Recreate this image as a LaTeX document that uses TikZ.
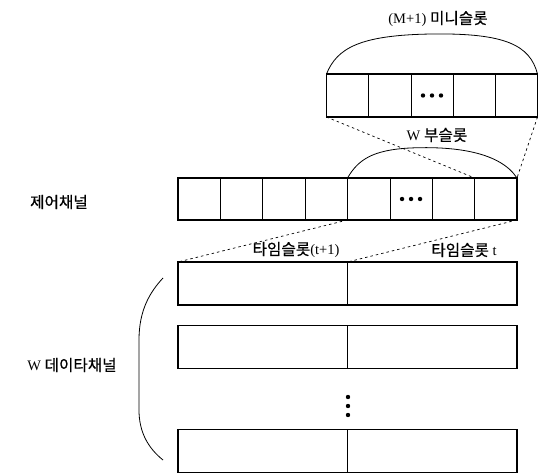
\documentclass[tikz,border=0pt]{standalone}
\usepackage{fontspec}
\setmainfont{Liberation Serif}
\newfontfamily\kr[FakeBold=0.6,Scale=1.08]{Noto Sans CJK KR}
\begin{document}
\begin{tikzpicture}[x=1pt,y=-1pt,
  cellbox/.style={draw, line width=0.7pt, inner sep=0pt, outer sep=0pt},
  ccell/.style={cellbox, minimum width=42.375pt, minimum height=42pt},
  mcell/.style={cellbox, minimum width=42.2pt, minimum height=43pt},
  dcell/.style={cellbox, minimum width=169.5pt, minimum height=43pt},
  outerline/.style={line width=1.4pt},
  dashline/.style={line width=0.7pt, dash pattern=on 2.5pt off 3pt},
  curveline/.style={line width=0.8pt},
  lbl/.style={inner sep=1pt, font=\fontsize{14.5}{16}\selectfont},
  dotmark/.style={fill=black, draw=none}
]
\useasboundingbox (0,0) rectangle (539,473);

% control channel
\foreach \i in {1,...,8}
  \node[ccell] (c\i) at ({178+42.375*(\i-0.5)},199) {};
\draw[outerline] (c1.north west) rectangle (c8.south east);

% mini-slot box
\foreach \i in {1,...,5}
  \node[mcell] (m\i) at ({326.5+42.2*(\i-0.5)},95.5) {};
\draw[outerline] (m1.north west) rectangle (m5.south east);

% data channels
\foreach \r/\yy in {1/283.5,2/347,3/451}{
  \node[dcell] (d\r l) at (262.75,\yy) {};
  \node[dcell] (d\r r) at (432.25,\yy) {};
  \draw[outerline] (d\r l.north west) rectangle (d\r r.south east);
}

% dots
\foreach \dx in {-9,0,9}{
  \fill[dotmark] ([xshift=\dx pt]m3.center) circle (2.2pt);
  \fill[dotmark] ([xshift=\dx pt]c6.center) circle (2.2pt);
}
\foreach \yy in {397,406,415}
  \fill[dotmark] (348,\yy) circle (2.2pt);

% arcs
\draw[curveline] (m1.north west) .. controls (337,48) and (360,35) .. (432,34)
  .. controls (505,33) and (530,45) .. (m5.north east);
\draw[curveline] (c5.north west) .. controls (358,160) and (372,150) .. (410,148)
  .. controls (455,146) and (500,152) .. (c8.north east);

% dashed connectors
\draw[dashline] (m1.south west) -- (c8.north west);
\draw[dashline] (m5.south east) -- (c8.north east);
\draw[dashline] (c5.south west) -- (d1l.north west);
\draw[dashline] (c8.south east) -- (d1l.north east);

% brace
\draw[curveline] (163,278) .. controls (150,292) and (139,310) .. (139,340)
  -- (139,410) .. controls (139,432) and (148,448) .. (163,460);

% labels
\node[lbl] (lmini) at (438,19) {(M+1) {\kr 미니슬롯}};
\node[lbl] (lsub) at (437,135) {W {\kr 부슬롯}};
\node[lbl] (lts1) at (296,250) {{\kr 타임슬롯}(t+1)};
\node[lbl] (lts) at (464,250) {{\kr 타임슬롯} t};
\node[lbl] (lctrl) at (59,202) {{\kr 제어채널}};
\node[lbl] (ldata) at (72,365) {W {\kr 데이타채널}};
\end{tikzpicture}
\end{document}
